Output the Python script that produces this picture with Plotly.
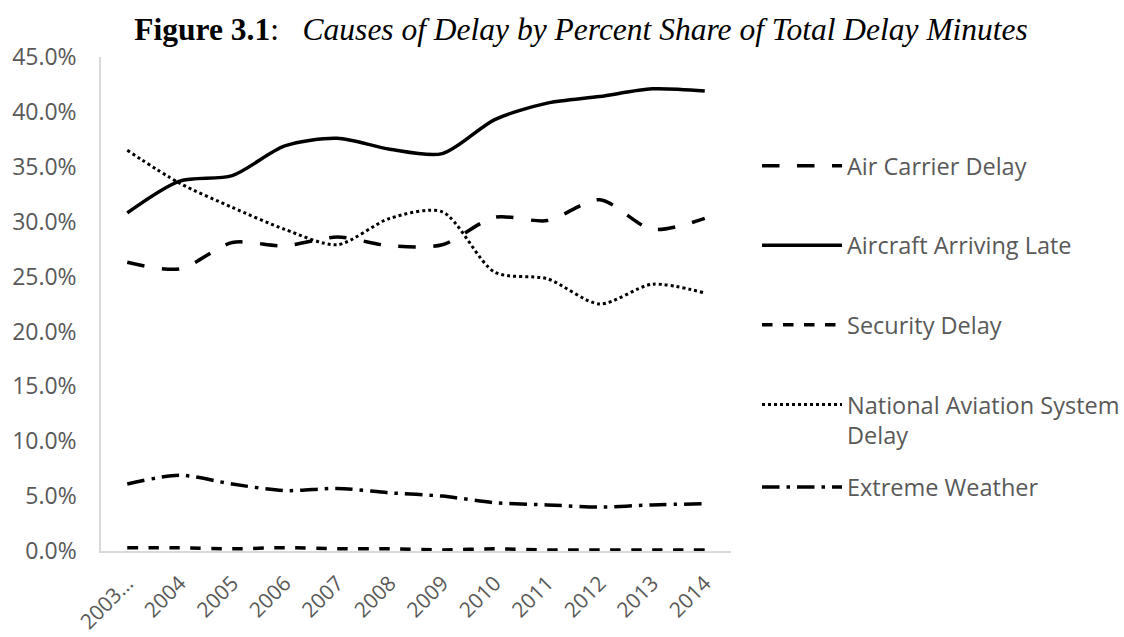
import plotly.graph_objects as go

years = ["2003…", "2004", "2005", "2006", "2007", "2008", "2009", "2010", "2011", "2012", "2013", "2014"]
air_carrier = [26.3, 25.7, 28.1, 27.8, 28.6, 27.8, 27.9, 30.4, 30.1, 32.0, 29.3, 30.3]
aircraft_late = [30.8, 33.7, 34.2, 36.9, 37.6, 36.6, 36.2, 39.3, 40.8, 41.4, 42.1, 41.9]
security = [0.3, 0.3, 0.2, 0.3, 0.2, 0.2, 0.1, 0.2, 0.1, 0.1, 0.1, 0.1]
nas = [36.5, 33.5, 31.3, 29.3, 27.9, 30.3, 30.9, 25.4, 24.8, 22.5, 24.3, 23.5]
weather = [6.1, 6.9, 6.1, 5.5, 5.7, 5.3, 5.0, 4.4, 4.2, 4.0, 4.2, 4.3]

series = [
    ("Air Carrier Delay", air_carrier, "longdash", "legend"),
    ("Aircraft Arriving Late", aircraft_late, "solid", "legend"),
    ("Security Delay", security, "dash", "legend"),
    ("National Aviation System<br>Delay", nas, "dot", "legend"),
    ("Extreme Weather", weather, "longdashdot", "legend2"),
]

fig = go.Figure()
for i, (name, vals, dash, leg) in enumerate(series):
    fig.add_trace(go.Scatter(
        x=years, y=vals, name=name, mode="lines",
        line=dict(color="black", width=3.5 if dash != "dot" else 3, dash=dash, shape="spline", smoothing=0.8),
        legendgroup=f"g{i}", legend=leg,
    ))

legend_common = dict(
    xanchor="left", xref="container", yref="container",
    font=dict(family="Open Sans", size=23.5, color="#595959"),
    itemwidth=80, bgcolor="rgba(0,0,0,0)", valign="top",
)

fig.update_layout(
    width=1124, height=637,
    paper_bgcolor="white", plot_bgcolor="white",
    margin=dict(l=101, r=393, t=57, b=86),
    font=dict(family="Open Sans", color="#595959", size=23),
    title=dict(
        text="<b>Figure 3.1</b>:   <i>Causes of Delay by Percent Share of Total Delay Minutes</i>",
        x=0.517, xanchor="center", y=0.955, yanchor="middle",
        font=dict(family="Liberation Serif", size=31.5, color="black"),
    ),
    legend=dict(x=0.6735, y=0.774, yanchor="top", tracegroupgap=46, **legend_common),
    legend2=dict(x=0.6735, y=0.235, yanchor="middle", **legend_common),
    xaxis=dict(
        type="category", range=[-0.5, 11.5], showline=True, linecolor="#d9d9d9", linewidth=1.5,
        showgrid=False, ticks="", tickangle=-45, ticklabelstandoff=10, automargin=False,
        tickfont=dict(size=21, color="#595959"),
    ),
    yaxis=dict(
        range=[0, 45], dtick=5, tickformat=".1f", ticksuffix="%",
        showline=True, linecolor="#d9d9d9", linewidth=1.5, automargin=False,
        showgrid=False, zeroline=False, ticks="", ticklabelstandoff=18,
        tickfont=dict(size=23, color="#595959"),
    ),
)

fig.write_html(
    "out.html",
    config={"displayModeBar": False},
    post_script="document.body.style.margin='0';document.body.style.padding='0';",
)
